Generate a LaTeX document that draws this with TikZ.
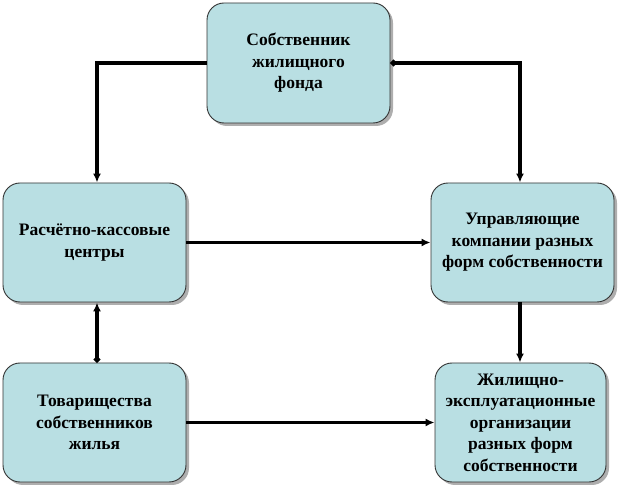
\documentclass[tikz,border=0pt]{standalone}
\usepackage{fontspec}
\setmainfont{Liberation Serif}
\usetikzlibrary{arrows.meta,shadows}
\definecolor{boxfill}{HTML}{B9DFE3}
\begin{document}
\begin{tikzpicture}[x=1pt,y=-1pt,
  box/.style={draw=black!80,line width=0.9pt,fill=boxfill,rounded corners=17pt,
    align=center,font=\bfseries\fontsize{17.5}{21.5}\selectfont,inner sep=0pt,
    drop shadow={shadow xshift=3pt,shadow yshift=-3pt,fill=black!45,opacity=0.7}},
  conn/.style={line width=3.2pt,-{Latex[length=9pt,width=8pt]}},
  dotconn/.style={line width=3.2pt,{Circle[length=6pt]}-{Latex[length=9pt,width=8pt]}}]
\useasboundingbox (0,0) rectangle (622,486);
\node[box,minimum width=183pt,minimum height=120pt] (own) at (298.5,63) {Собственник\\жилищного\\фонда};
\node[box,minimum width=183pt,minimum height=119pt] (rkc) at (94.5,242.5) {Расчётно-кассовые\\центры};
\node[box,minimum width=183pt,minimum height=119pt] (uk) at (522.5,242.5) {Управляющие\\компании разных\\форм собственности};
\node[box,minimum width=183pt,minimum height=119pt] (tsj) at (94.5,422.5) {Товарищества\\собственников\\жилья};
\node[box,minimum width=171pt,minimum height=119pt] (geo) at (520.5,422.5) {Жилищно-\\эксплуатационные\\организации\\разных форм\\собственности};
\coordinate (c1) at (97,63);
\coordinate (c2) at (520,63);
\draw[conn] (own.west) -- (c1) -- (rkc.north -| c1);
\draw[dotconn] (own.east) -- (c2) -- (uk.north -| c2);
\draw[conn] (rkc.east) -- (uk.west);
\draw[conn] (uk.south -| c2) -- (geo.north -| c2);
\draw[dotconn] (tsj.north -| c1) -- (rkc.south -| c1);
\draw[conn] (tsj.east) -- (geo.west);
\end{tikzpicture}
\end{document}
